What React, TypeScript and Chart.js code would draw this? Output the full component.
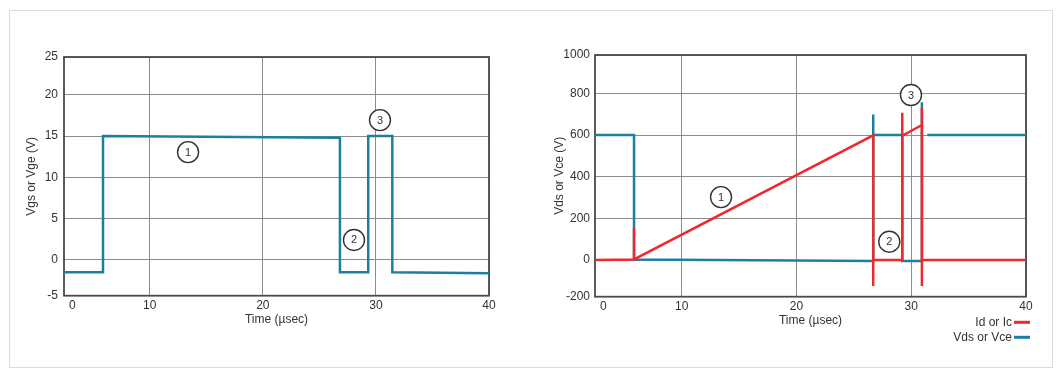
import React, { useEffect, useRef } from "react";
import { Chart, registerables } from "chart.js";

Chart.register(...registerables);

// ---- Data ----
// Left chart: gate voltage
const vgsTime = [2.42, 5.87, 5.87, 26.82, 26.82, 29.32, 29.32, 31.45, 31.45, 40];
const vgsValue = [-1.5, -1.5, 15, 14.8, -1.5, -1.5, 15, 15, -1.5, -1.6];

// Right chart: drain current and drain-source voltage
const idTime = [2.45, 5.85, 5.85, 5.85, 26.69, 26.69, 26.69, 29.22, 29.22, 29.22, 30.93, 30.93, 30.93, 30.93, 40];
const idValue = [0, 3, 155, 3, 598, -125, 0, 0, 707, 596, 648, 730, -125, 0, 0];

const vdsTime = [2.45, 5.85, 5.85, 26.69, 26.69, 26.69, 29.22, 29.22, 30.93, 30.93, 30.93, 31.15, 31.4, 40];
const vdsValue = [600, 600, 3, -5, 699, 600, 600, -5, -5, 757, 600, null, 600, 600];

// Axis ticks (the drawing's axes are slightly irregular at their ends)
const leftXTickValues = [3.16, 10, 20, 30, 40];
const rightXTickValues = [3.17, 10, 20, 30, 40];
const xTickLabels = ["0", "10", "20", "30", "40"];
const leftYTickValues = [-4.33, 0, 5, 10, 15, 20, 24.57];
const leftYTickLabels = ["-5", "0", "5", "10", "15", "20", "25"];
const rightYTickValues = [-176, 0, 200, 400, 600, 800, 984];
const rightYTickLabels = ["-200", "0", "200", "400", "600", "800", "1000"];

// Numbered callouts
const leftMarkerX = [13.39, 28.06, 30.36];
const leftMarkerY = [13.05, 2.42, 16.93];
const rightMarkerX = [13.43, 28.09, 29.98];
const rightMarkerY = [302, 88, 792];
const markerLabels = ["1", "2", "3"];

const BLUE = "#1c7ea1";
const RED = "#f0282d";
const GRID = "#8c8c8c";
const TEXT = "#333333";
const FONT = '"Liberation Sans", Arial, Helvetica, sans-serif';

Chart.defaults.font.family = FONT;

const pts = (xs: number[], ys: (number | null)[]) => xs.map((x, i) => ({ x, y: ys[i] }));

function boxPlugin() {
  return {
    id: "box",
    beforeDatasetsDraw(chart: any) {
      const { ctx, chartArea: a } = chart;
      ctx.save();
      ctx.strokeStyle = "#4a4a4a";
      ctx.lineWidth = 1.8;
      ctx.strokeRect(a.left, a.top, a.right - a.left, a.bottom - a.top);
      ctx.restore();
    },
  };
}

function markerPlugin(xs: number[], ys: number[], labels: string[]) {
  return {
    id: "markers",
    afterDatasetsDraw(chart: any) {
      const { ctx } = chart;
      const sx = chart.scales.x;
      const sy = chart.scales.y;
      ctx.save();
      xs.forEach((v, i) => {
        const px = sx.getPixelForValue(v);
        const py = sy.getPixelForValue(ys[i]);
        ctx.beginPath();
        ctx.arc(px, py, 10.5, 0, Math.PI * 2);
        ctx.fillStyle = "#ffffff";
        ctx.fill();
        ctx.lineWidth = 1.4;
        ctx.strokeStyle = "#333333";
        ctx.stroke();
        ctx.fillStyle = TEXT;
        ctx.font = `11px ${FONT}`;
        ctx.textAlign = "center";
        ctx.textBaseline = "middle";
        ctx.fillText(labels[i], px, py + 0.5);
      });
      ctx.restore();
    },
  };
}

function legendPlugin() {
  return {
    id: "customLegend",
    afterDraw(chart: any) {
      const { ctx, chartArea: a } = chart;
      ctx.save();
      ctx.font = `12px ${FONT}`;
      ctx.textAlign = "right";
      ctx.textBaseline = "middle";
      chart.data.datasets.forEach((ds: any, i: number) => {
        const y = a.bottom + 25.6 + i * 15;
        ctx.fillStyle = TEXT;
        ctx.fillText(ds.label, a.right - 14, y);
        ctx.strokeStyle = ds.borderColor;
        ctx.lineWidth = 3;
        ctx.beginPath();
        ctx.moveTo(a.right - 12, y);
        ctx.lineTo(a.right + 4, y);
        ctx.stroke();
      });
      ctx.restore();
    },
  };
}

function makeOptions(cfg: {
  xMin: number;
  yMin: number;
  yMax: number;
  xTicks: number[];
  yTicks: number[];
  yLabels: string[];
  yTitle: string;
  yWidth: number;
  yTitlePad: number;
  yTickPad: number;
  padding: { top: number; right: number; bottom: number; left: number };
}) {
  return {
    animation: false,
    responsive: false,
    layout: { padding: cfg.padding },
    plugins: { legend: { display: false }, tooltip: { enabled: false } },
    elements: { point: { radius: 0 }, line: { tension: 0, borderJoinStyle: "miter" } },
    scales: {
      x: {
        type: "linear",
        min: cfg.xMin,
        max: 40,
        border: { display: false },
        grid: {
          drawTicks: false,
          lineWidth: 1,
          color: (c: any) => (c.tick && c.tick.value === cfg.xTicks[0] ? "rgba(0,0,0,0)" : GRID),
        },
        afterBuildTicks: (s: any) => {
          s.ticks = cfg.xTicks.map((v) => ({ value: v }));
        },
        afterFit: (s: any) => {
          s.height = 40;
        },
        ticks: {
          padding: 3,
          color: TEXT,
          font: { size: 12 },
          maxRotation: 0,
          autoSkip: false,
          callback: (_v: any, i: number) => xTickLabels[i],
        },
        title: {
          display: true,
          text: "Time (µsec)",
          color: TEXT,
          font: { size: 12 },
          padding: { top: 0, bottom: 8.5 },
        },
      },
      y: {
        type: "linear",
        min: cfg.yMin,
        max: cfg.yMax,
        border: { display: false },
        grid: { drawTicks: false, lineWidth: 1, color: GRID },
        afterBuildTicks: (s: any) => {
          s.ticks = cfg.yTicks.map((v) => ({ value: v }));
        },
        afterFit: (s: any) => {
          s.width = cfg.yWidth;
        },
        ticks: {
          padding: cfg.yTickPad,
          color: TEXT,
          font: { size: 12 },
          autoSkip: false,
          callback: (_v: any, i: number) => cfg.yLabels[i],
        },
        title: {
          display: true,
          text: cfg.yTitle,
          color: TEXT,
          font: { size: 12 },
          padding: { top: cfg.yTitlePad, bottom: 0 },
        },
      },
    },
  } as any;
}

export default function App() {
  const leftRef = useRef<HTMLCanvasElement | null>(null);
  const rightRef = useRef<HTMLCanvasElement | null>(null);

  useEffect(() => {
    if (!leftRef.current || !rightRef.current) return;
    const left = new Chart(leftRef.current, {
      type: "line",
      data: {
        datasets: [
          {
            label: "Vgs or Vge",
            data: pts(vgsTime, vgsValue),
            borderColor: BLUE,
            backgroundColor: BLUE,
            borderWidth: 2.5,
            fill: false,
          },
        ],
      },
      options: makeOptions({
        xMin: 2.42,
        yMin: -4.33,
        yMax: 24.57,
        xTicks: leftXTickValues,
        yTicks: leftYTickValues,
        yLabels: leftYTickLabels,
        yTitle: "Vgs or Vge (V)",
        yWidth: 64,
        yTitlePad: 24.5,
        yTickPad: 6,
        padding: { top: 57, right: 41, bottom: 37.3, left: 0 },
      }),
      plugins: [boxPlugin(), markerPlugin(leftMarkerX, leftMarkerY, markerLabels)],
    } as any);

    const right = new Chart(rightRef.current, {
      type: "line",
      data: {
        datasets: [
          {
            label: "Id or Ic",
            data: pts(idTime, idValue),
            borderColor: RED,
            backgroundColor: RED,
            borderWidth: 2.5,
            fill: false,
          },
          {
            label: "Vds or Vce",
            data: pts(vdsTime, vdsValue),
            borderColor: BLUE,
            backgroundColor: BLUE,
            borderWidth: 2.5,
            fill: false,
            spanGaps: false,
          },
        ],
      },
      options: makeOptions({
        xMin: 2.45,
        yMin: -176,
        yMax: 984,
        xTicks: rightXTickValues,
        yTicks: rightYTickValues,
        yLabels: rightYTickLabels,
        yTitle: "Vds or Vce (V)",
        yWidth: 65,
        yTitlePad: 22.5,
        yTickPad: 5,
        padding: { top: 55, right: 34, bottom: 36.3, left: 0 },
      }),
      plugins: [boxPlugin(), markerPlugin(rightMarkerX, rightMarkerY, markerLabels), legendPlugin()],
    } as any);

    return () => {
      left.destroy();
      right.destroy();
    };
  }, []);

  return (
    <div style={{ position: "absolute", left: 0, top: 0, width: 1060, height: 373, background: "#ffffff" }}>
      <div
        style={{
          position: "absolute",
          left: 9,
          top: 10,
          width: 1044,
          height: 358,
          border: "1px solid #dcdcdc",
          boxSizing: "border-box",
        }}
      />
      <canvas
        ref={leftRef}
        width={530}
        height={373}
        style={{ position: "absolute", left: 0, top: 0, width: 530, height: 373 }}
      />
      <canvas
        ref={rightRef}
        width={530}
        height={373}
        style={{ position: "absolute", left: 530, top: 0, width: 530, height: 373 }}
      />
    </div>
  );
}
